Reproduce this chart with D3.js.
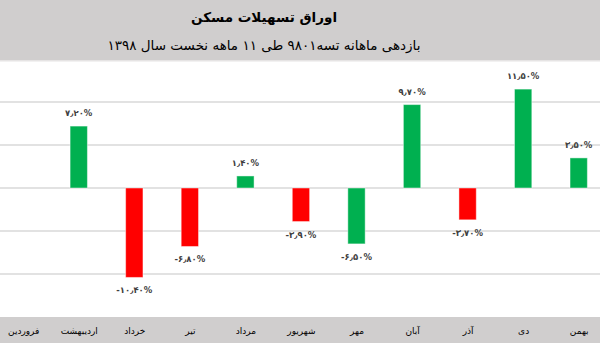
<!DOCTYPE html>
<html>
<head>
<meta charset="utf-8">
<script src="https://cdn.jsdelivr.net/npm/d3@7"></script>
<style>
  html, body { margin: 0; padding: 0; background: #fff; }
  svg { display: block; font-family: "DejaVu Sans", sans-serif; }
</style>
</head>
<body>
<svg id="chart" width="600" height="343"></svg>
<script>
// Monthly returns of housing facility bonds (تسه۹۸۰۱), first 11 months of 1398
const months = ["فروردین", "اردیبهشت", "خرداد", "تیر", "مرداد", "شهریور", "مهر", "آبان", "آذر", "دی", "بهمن"];
const returns = [null, 7.2, -10.4, -6.8, 1.4, -3.9, -6.5, 9.7, -3.7, 11.5, 3.5];
const barColors = [null, "#00b050", "#ff0000", "#ff0000", "#00b050", "#ff0000", "#00b050", "#00b050", "#ff0000", "#00b050", "#00b050"];
const gridTicks = [-10, -5, 0, 5, 10];
const titleText = "اوراق تسهیلات مسکن";
const subtitleText = "بازدهی ماهانه تسه۹۸۰۱ طی ۱۱ ماهه نخست سال ۱۳۹۸";

const W = 600, H = 343;
const svg = d3.select("#chart");

const x = d3.scalePoint().domain(months).range([23.2, 578.7]);
const barW = x.step() * 0.312;
const y = d3.scaleLinear().domain([-15, 15]).range([317, 59]);

const faDigits = "۰۱۲۳۴۵۶۷۸۹";
const toFa = s => s.replace(/[0-9]/g, d => faDigits[+d]).replace(".", "٫");
const fmt = v => toFa(v.toFixed(2)) + "%";

// grid lines
svg.append("g")
  .selectAll("line")
  .data(gridTicks)
  .join("line")
  .attr("x1", 0).attr("x2", W)
  .attr("y1", d => y(d)).attr("y2", d => y(d))
  .attr("stroke", "#d9d9d9")
  .attr("stroke-width", 1.5);

// bars
const data = months.map((m, i) => ({ m, v: returns[i], c: barColors[i] })).filter(d => d.v !== null);

svg.append("g")
  .selectAll("rect")
  .data(data)
  .join("rect")
  .attr("x", d => x(d.m) - barW / 2)
  .attr("y", d => y(Math.max(0, d.v)))
  .attr("width", barW)
  .attr("height", d => Math.abs(y(d.v) - y(0)))
  .attr("fill", d => d.c)
  .attr("stroke", "#ffffff")
  .attr("stroke-opacity", 0.45)
  .attr("stroke-width", 1);

// value labels
svg.append("g")
  .selectAll("text")
  .data(data)
  .join("text")
  .attr("x", d => x(d.m))
  .attr("y", d => d.v >= 0 ? y(d.v) - 10 : y(d.v) + 16)
  .attr("text-anchor", "middle")
  .attr("direction", "ltr")
  .attr("font-size", 8.5)
  .attr("font-weight", "bold")
  .attr("fill", "#404040")
  .text(d => fmt(d.v));

// header band
svg.append("rect").attr("x", 0).attr("y", 0).attr("width", W).attr("height", 60).attr("fill", "#d0cece");
svg.append("rect").attr("x", 0).attr("y", 60).attr("width", W).attr("height", 1.5).attr("fill", "#e6e4e4");

svg.append("text")
  .attr("x", 264).attr("y", 22)
  .attr("text-anchor", "middle")
  .attr("direction", "rtl")
  .attr("font-size", 13.5)
  .attr("font-weight", "bold")
  .attr("fill", "#000")
  .text(titleText);

svg.append("text")
  .attr("x", 264).attr("y", 50)
  .attr("text-anchor", "middle")
  .attr("direction", "rtl")
  .attr("font-size", 13.5)
  .attr("fill", "#000")
  .text(subtitleText);

// footer band with month axis
svg.append("rect").attr("x", 0).attr("y", 317).attr("width", W).attr("height", H - 317).attr("fill", "#d0cece");

const axis = d3.axisBottom(x).tickSize(0).tickPadding(0);
const axG = svg.append("g").attr("transform", "translate(0,317)").call(axis);
axG.select(".domain").remove();
axG.selectAll("text")
  .attr("y", 16.5)
  .attr("dy", 0)
  .attr("direction", "rtl")
  .attr("font-family", "DejaVu Sans, sans-serif")
  .attr("font-size", 9)
  .attr("fill", "#000");
</script>
</body>
</html>
